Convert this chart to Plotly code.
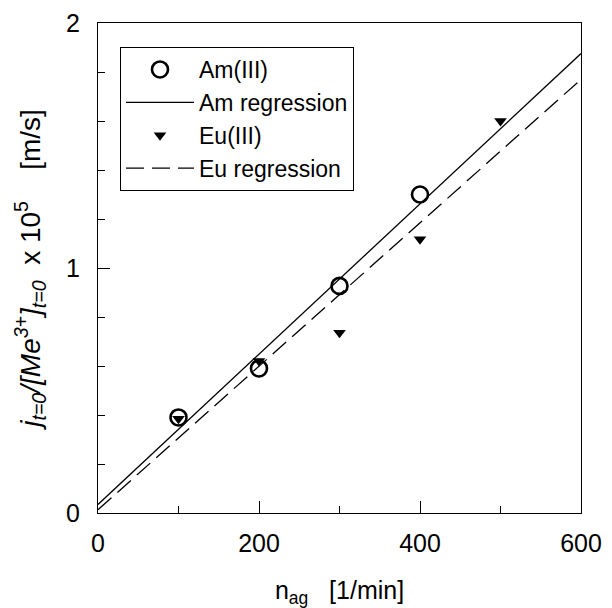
import numpy as np
import plotly.graph_objects as go

# Data
am_x = [100, 200, 300, 400]
am_y = [0.39, 0.59, 0.927, 1.30]
eu_x = [100, 200, 300, 400, 500]
eu_y = [0.385, 0.62, 0.736, 1.117, 1.60]
line_x = [0, 600]

x_ticks = [0, 200, 400, 600]
y_ticks = [0, 1, 2]

# regression lines fitted to the data
am_fit = np.polyfit(am_x, am_y, 1)
eu_fit = np.polyfit(eu_x, eu_y, 1)
am_line = np.polyval(am_fit, line_x)
eu_line = np.polyval(eu_fit, line_x)

FONT = "Arial, Liberation Sans, sans-serif"
SP = "&nbsp;"

fig = go.Figure()
fig.add_trace(go.Scatter(x=am_x, y=am_y, mode="markers", name="Am(III)",
                         marker=dict(symbol="circle-open", size=16, color="black",
                                     line=dict(width=2.6, color="black"))))
fig.add_trace(go.Scatter(x=line_x, y=am_line, mode="lines", name="Am regression",
                         line=dict(color="black", width=1.3)))
fig.add_trace(go.Scatter(x=eu_x, y=eu_y, mode="markers", name="Eu(III)",
                         marker=dict(symbol="triangle-down", size=11, color="black")))
fig.add_trace(go.Scatter(x=line_x, y=eu_line, mode="lines", name="Eu regression",
                         line=dict(color="black", width=1.3, dash="18px,8px")))

# page body has an 8px default margin, so the figure is 8px smaller each way
fig.update_layout(
    width=604, height=600,
    margin=dict(l=90, r=31, t=15, b=95, autoexpand=False),
    paper_bgcolor="white", plot_bgcolor="white",
    font=dict(family=FONT, size=23, color="black"),
    showlegend=True,
    legend=dict(x=(120 - 98) / 483, y=(513 - 47) / 490, xanchor="left", yanchor="top",
                bgcolor="white", bordercolor="black", borderwidth=1,
                font=dict(size=23, family=FONT), itemwidth=68,
                tracegroupgap=0),
)
fig.update_xaxes(
    range=[0, 600], tickvals=x_ticks, ticktext=[str(v) for v in x_ticks],
    ticks="inside", ticklen=12, tickwidth=1.2, tickcolor="black",
    minor=dict(dtick=100, tick0=0, ticks="inside", ticklen=7, tickwidth=1.2, tickcolor="black"),
    showline=True, linecolor="black", linewidth=1.3, mirror=True,
    showgrid=False, zeroline=False, automargin=False,
    tickfont=dict(size=25, family=FONT), ticklabelstandoff=8,
    title=dict(text="n<sub>ag</sub>" + SP * 3 + "[1/min]", font=dict(size=25, family=FONT), standoff=25),
)
fig.update_yaxes(
    range=[0, 2], tickvals=y_ticks, ticktext=[str(v) for v in y_ticks],
    ticks="inside", ticklen=12, tickwidth=1.2, tickcolor="black",
    minor=dict(dtick=0.2, tick0=0, ticks="inside", ticklen=7, tickwidth=1.2, tickcolor="black"),
    showline=True, linecolor="black", linewidth=1.3, mirror=True,
    showgrid=False, zeroline=False, automargin=False,
    tickfont=dict(size=25, family=FONT), ticklabelstandoff=12,
    title=dict(text="<i>j<sub>t=0</sub>/[Me<sup>3+</sup>]<sub>t=0</sub></i>" + SP * 2 + "x" + SP
               + "10<sup>5</sup>" + SP * 4 + "[m/s]",
               font=dict(size=28, family=FONT), standoff=17),
)

fig.write_html("out.html")
